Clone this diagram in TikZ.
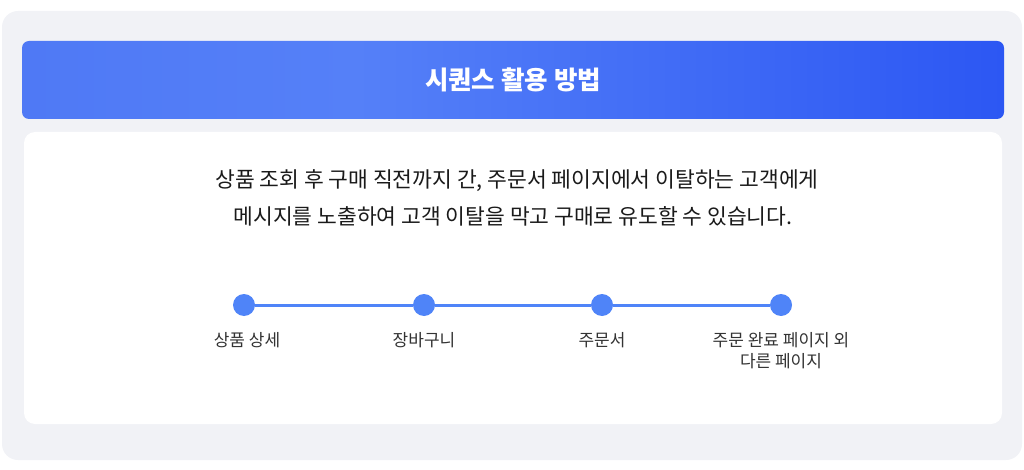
\documentclass[tikz,border=0pt]{standalone}
\usepackage{fontspec}
\setmainfont{Noto Sans CJK KR}
\usetikzlibrary{positioning}
\definecolor{panelgray}{HTML}{F1F2F6}
\definecolor{hdrleft}{HTML}{4F79F5}
\definecolor{hdrmid}{HTML}{5580F8}
\definecolor{hdrright}{HTML}{2C57F3}
\definecolor{stepblue}{HTML}{4F84F8}
\definecolor{bodytext}{HTML}{1A1A1A}
\definecolor{labeltext}{HTML}{333333}
\pgfdeclarehorizontalshading{hdrshade}{100bp}{color(0bp)=(hdrleft); color(25bp)=(hdrleft); color(42bp)=(hdrmid); color(75bp)=(hdrright); color(100bp)=(hdrright)}
\tikzset{
  dot/.style={circle, fill=stepblue, minimum size=22pt, inner sep=0pt},
  steplabel/.style={font=\fontsize{17}{21}\selectfont, text=labeltext, align=center, anchor=north},
  bodyline/.style={font=\fontsize{21.5}{35}\selectfont, text=bodytext},
}
\begin{document}
\begin{tikzpicture}[x=1pt, y=-1pt]
  \useasboundingbox (0,0) rectangle (1024,470);
  % panels
  \fill[panelgray, rounded corners=16pt] (2,11) rectangle (1022,460);
  \shade[shading=hdrshade, rounded corners=7pt] (22,41) rectangle (1004,119);
  \fill[white, rounded corners=11pt] (24,132) rectangle (1002,424);
  \node[text=white, font=\fontsize{25.5}{30}\selectfont\bfseries] (title) at (513,80) {시퀀스 활용 방법};
  \node[bodyline] (line1) at (517,181) {상품 조회 후 구매 직전까지 간, 주문서 페이지에서 이탈하는 고객에게};
  \node[bodyline] (line2) at (513,216) {메시지를 노출하여 고객 이탈을 막고 구매로 유도할 수 있습니다.};
  % timeline
  \draw
    (244,305) node[dot] (detail){}
    (424,305) node[dot] (cart){}
    (602,305) node[dot] (order){}
    (781,305) node[dot] (other){};
  \begin{scope}[stepblue, line width=3pt]
    \draw (detail) -- (cart);
    \draw (cart) -- (order);
    \draw (order) -- (other);
  \end{scope}
  \node[steplabel] (detaillabel) at (247,329) {상품 상세};
  \node[steplabel] (cartlabel) at (424,329) {장바구니};
  \node[steplabel] (orderlabel) at (602,329) {주문서};
  \node[steplabel] (otherlabel) at (781,329) {주문 완료 페이지 외\\다른 페이지};
\end{tikzpicture}
\end{document}
